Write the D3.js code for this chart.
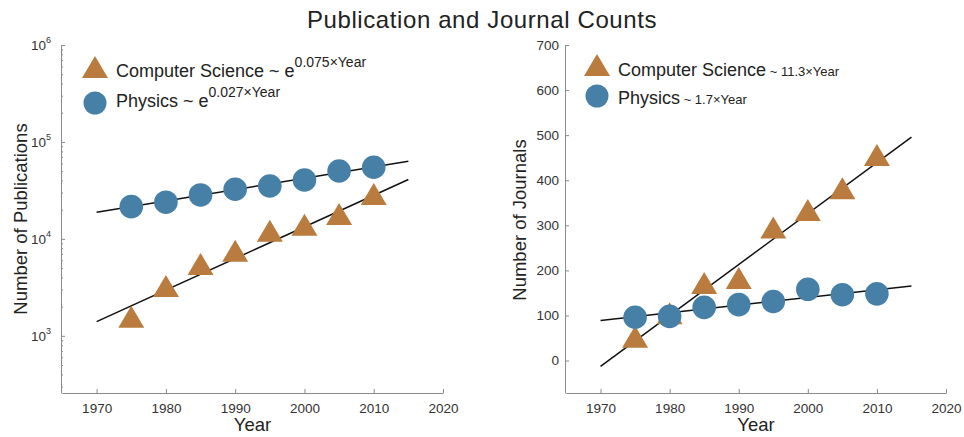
<!DOCTYPE html>
<html>
<head>
<meta charset="utf-8">
<script src="https://cdn.jsdelivr.net/npm/d3@7"></script>
<style>
  body { margin: 0; background: #fff; }
  svg { display: block; font-family: "Liberation Sans", Arial, sans-serif; }
  .axis path, .axis line { stroke: #8a8a8a; }
  .axis text { fill: #333; font-size: 13.5px; font-family: "Liberation Sans", Arial, sans-serif; }
</style>
</head>
<body>
<svg id="chart"></svg>
<script>
const years = [1975, 1980, 1985, 1990, 1995, 2000, 2005, 2010];
const csPubs = [1570, 3270, 5520, 7520, 12100, 14000, 18100, 29100];
const physPubs = [21500, 23900, 28400, 32500, 35100, 40500, 50100, 54800];
const csJournals = [53, 105, 172, 183, 295, 334, 382, 456];
const physJournals = [96, 98, 118, 124, 131, 158, 146, 148];

// fitted trends: [computer science, physics]
const fitYears = [1970, 2015];
const pubFitRate = [0.075, 0.027];
const pubFitAt1970 = [1400, 18800];
const journalFitSlope = [11.3, 1.7];
const journalFitAt1970 = [-13, 89];

const xTicks = [1970, 1980, 1990, 2000, 2010, 2020];
const pubTicks = [1e3, 1e4, 1e5, 1e6];
const journalTicks = [0, 100, 200, 300, 400, 500, 600, 700];

const CS_COLOR = '#b97c3e';
const PHYS_COLOR = '#4780a6';

const width = 964;
const height = 437;
const svg = d3.select('#chart').attr('width', width).attr('height', height);

const triPath = 'M0,-11L13,11L-13,11Z';

function panel(x, y, cs, phys, fitFn, yTickValues, yFormat, minor) {
  const g = svg.append('g');
  const yBase = y.range()[0];

  // X axis
  g.append('g')
    .attr('class', 'axis')
    .attr('transform', `translate(0, ${yBase})`)
    .call(d3.axisBottom(x).tickValues(xTicks).tickFormat(d3.format('d'))
      .tickSizeInner(-4).tickSizeOuter(0).tickPadding(10));

  // Y axis
  const yAx = g.append('g')
    .attr('class', 'axis')
    .attr('transform', `translate(${x.range()[0] - 1}, 0)`)
    .call(d3.axisLeft(y).tickValues(yTickValues).tickFormat(yFormat)
      .tickSizeInner(-4).tickSizeOuter(0).tickPadding(6));

  if (minor) {
    g.append('g')
      .attr('class', 'axis')
      .attr('transform', `translate(${x.range()[0] - 1}, 0)`)
      .call(d3.axisLeft(y).tickValues(minor).tickFormat('')
        .tickSizeInner(-2).tickSizeOuter(0))
      .select('.domain').remove();
  }

  // Fit lines
  [0, 1].forEach(i => {
    g.append('path')
      .attr('fill', 'none')
      .attr('stroke', '#111')
      .attr('stroke-width', 1.5)
      .attr('d', d3.line().x(d => x(d)).y(d => y(fitFn(i, d)))(fitYears));
  });

  // Markers
  g.selectAll('.tri')
    .data(cs)
    .enter().append('path')
      .attr('class', 'tri')
      .attr('d', triPath)
      .attr('fill', CS_COLOR)
      .attr('transform', (d, i) => `translate(${x(years[i])}, ${y(d)})`);
  g.selectAll('.dot')
    .data(phys)
    .enter().append('circle')
      .attr('class', 'dot')
      .attr('r', 11.8)
      .attr('fill', PHYS_COLOR)
      .attr('cx', (d, i) => x(years[i]))
      .attr('cy', d => y(d));

  // Axis title
  g.append('text')
    .attr('x', (x.range()[0] + x.range()[1]) / 2)
    .attr('y', 431)
    .attr('text-anchor', 'middle')
    .attr('font-size', 18.5)
    .attr('fill', '#222')
    .text('Year');

  return { g, yAx };
}

// Left: publications (log)
const xL = d3.scaleLinear().domain([1965, 2020]).range([62, 443]);
const yL = d3.scaleLog().domain([257, 1e6]).range([393, 45]);
const minorLog = [];
[100, 1000, 10000, 100000].forEach(b => {
  for (let k = 2; k <= 9; k++) {
    if (b * k >= 257) minorLog.push(b * k);
  }
});
const left = panel(xL, yL, csPubs, physPubs,
  (i, yr) => pubFitAt1970[i] * Math.exp(pubFitRate[i] * (yr - 1970)),
  pubTicks, () => '', minorLog);

left.yAx.selectAll('.tick text').each(function (d) {
  const t = d3.select(this).attr('dx', '-4px');
  t.append('tspan').text('10');
  t.append('tspan').attr('dy', '-7').attr('font-size', 9).text(Math.round(Math.log10(d)));
});

left.g.append('text')
  .attr('transform', 'translate(27, 219) rotate(-90)')
  .attr('text-anchor', 'middle')
  .attr('font-size', 18.5)
  .attr('fill', '#222')
  .text('Number of Publications');

// Right: journals (linear)
const xR = d3.scaleLinear().domain([1965, 2020]).range([566, 946]);
const yR = d3.scaleLinear().domain([-72, 700]).range([393, 45]);
const right = panel(xR, yR, csJournals, physJournals,
  (i, yr) => journalFitAt1970[i] + journalFitSlope[i] * (yr - 1970),
  journalTicks, d3.format('d'), null);

right.g.append('text')
  .attr('transform', 'translate(526, 220) rotate(-90)')
  .attr('text-anchor', 'middle')
  .attr('font-size', 18.5)
  .attr('fill', '#222')
  .text('Number of Journals');

// Legends
function legend(x0, yTri, yDot, yText1, yText2, csLabel, physLabel) {
  const lg = svg.append('g').attr('class', 'legend');
  lg.append('path').attr('d', triPath).attr('fill', CS_COLOR)
    .attr('transform', `translate(${x0}, ${yTri})`);
  lg.append('circle').attr('r', 11.5).attr('fill', PHYS_COLOR)
    .attr('cx', x0).attr('cy', yDot);
  const t1 = lg.append('text').attr('x', x0 + 21).attr('y', yText1)
    .attr('font-size', 18).attr('fill', '#222');
  csLabel(t1);
  const t2 = lg.append('text').attr('x', x0 + 21).attr('y', yText2)
    .attr('font-size', 18).attr('fill', '#222');
  physLabel(t2);
}

legend(95, 67, 103, 77, 107,
  t => {
    t.append('tspan').text('Computer Science ~ e');
    t.append('tspan').attr('dy', -10).attr('font-size', 14).text(`${pubFitRate[0]}\u00d7Year`);
  },
  t => {
    t.append('tspan').text('Physics ~ e');
    t.append('tspan').attr('dy', -10).attr('font-size', 14).text(`${pubFitRate[1]}\u00d7Year`);
  });

legend(597, 65, 96, 76, 104,
  t => {
    t.append('tspan').text('Computer Science');
    t.append('tspan').attr('font-size', 13).text(` ~ ${journalFitSlope[0]}\u00d7Year`);
  },
  t => {
    t.append('tspan').text('Physics');
    t.append('tspan').attr('font-size', 13).text(` ~ ${journalFitSlope[1]}\u00d7Year`);
  });

// Title
svg.append('text')
  .attr('x', 482)
  .attr('y', 28)
  .attr('text-anchor', 'middle')
  .attr('font-size', 24)
  .attr('letter-spacing', 0.6)
  .attr('fill', '#222')
  .text('Publication and Journal Counts');
</script>
</body>
</html>
